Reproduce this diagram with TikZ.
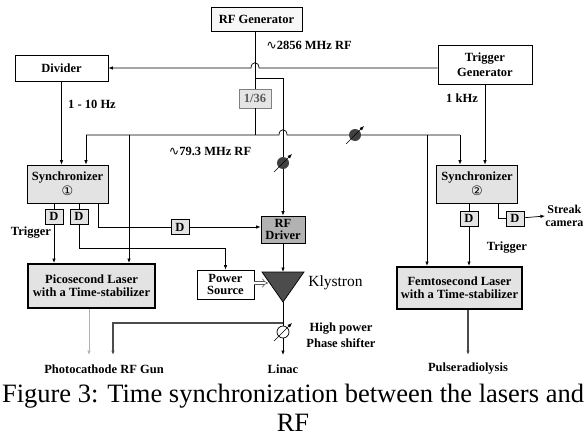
\documentclass[tikz,border=0pt]{standalone}
\usepackage{fontspec}
\setmainfont{Liberation Serif}
\newfontfamily\symfont{DejaVu Sans}
\usetikzlibrary{calc,arrows.meta}

\tikzset{
	blk/.style={draw, line width=0.8pt, inner sep=0pt, align=center,
		font=\bfseries\fontsize{12.5}{13}\selectfont},
	syncbox/.style={blk, fill=gray!22, minimum width=81pt, minimum height=38pt,
		font=\bfseries\fontsize{12.5}{15}\selectfont},
	laser/.style={blk, fill=gray!22, line width=2pt},
	dbox/.style={blk, fill=gray!22, minimum width=18pt, minimum height=15pt},
	lbl/.style={inner sep=0pt, align=center, font=\bfseries\fontsize{12.5}{16}\selectfont},
}

\begin{document}
\begin{tikzpicture}[x=1pt, y=-1pt, line width=0.7pt, >={Latex[length=4.5pt,width=3.5pt]}]
\useasboundingbox (0,0) rectangle (586,439);

% boxes
\node[blk, fill=gray!6, minimum width=91pt, minimum height=24pt] (rfgen) at (256.5,19) {RF Generator};
\node[blk, minimum width=93pt, minimum height=26pt] (divider) at (61.5,68) {Divider};
\node[blk, minimum width=94pt, minimum height=39pt, font=\bfseries\fontsize{12.5}{15}\selectfont] (trig) at (485,64.5) {Trigger\\Generator};
\node[blk, draw=gray, fill=gray!20, text=gray!70!black, minimum width=32pt, minimum height=19pt] (div) at (255,98.5) {1/36};
\node[syncbox] (sync1) at (67.5,184) {Synchronizer\\{\normalfont\symfont\fontsize{13}{13}\selectfont ①}};
\node[syncbox] (sync2) at (477,184) {Synchronizer\\{\normalfont\symfont\fontsize{13}{13}\selectfont ②}};
\node[dbox] (d1) at (54,216.5) {D};
\node[dbox] (d2) at (79,216.5) {D};
\node[dbox] (d3) at (180,227) {D};
\node[dbox] (d4) at (469,218.5) {D};
\node[dbox] (d5) at (515,218.5) {D};
\node[blk, fill=gray!60, minimum width=44pt, minimum height=27pt, font=\bfseries\fontsize{12.5}{11.5}\selectfont] (rfdrv) at (283,229.5) {RF\\Driver};
\node[blk, minimum width=57pt, minimum height=29pt, font=\bfseries\fontsize{12.5}{11.5}\selectfont] (power) at (225.5,284.5) {Power\\Source};
\node[laser, minimum width=127pt, minimum height=44pt] (pico) at (91.5,286) {Picosecond Laser\\with a Time-stabilizer};
\node[laser, minimum width=125pt, minimum height=42pt] (femto) at (459.5,288) {Femtosecond Laser\\with a Time-stabilizer};

% klystron
\coordinate (klytop) at (283,272);
\coordinate (klytip) at (283,302);
\coordinate (kin) at (268,283);
\draw[fill=gray!60!black] (262,272) -- (304,272) -- (klytip) -- cycle;

% labels
\node[lbl] (l2856) at (309,45) {{\normalfont\symfont ∿}2856 MHz RF};
\node[lbl] (l793) at (210,151) {{\normalfont\symfont ∿}79.3 MHz RF};
\node[lbl] (lhz) at (92,104) {1 - 10 Hz};
\node[lbl] (lkhz) at (462,98) {1 kHz};
\node[lbl] (trig1) at (31,233) {Trigger};
\node[lbl] (trig2) at (507,248) {Trigger};
\node[lbl, anchor=west, font=\bfseries\fontsize{12}{13}\selectfont] (streak) at (545,216) {Streak\\camera};
\node[lbl, anchor=west, font=\fontsize{15.5}{15}\selectfont] (kly) at (308,283) {Klystron};
\node[lbl] (hps) at (341,335) {High power\\Phase shifter};
\node[lbl] (gun) at (104,369) {Photocathode RF Gun};
\node[lbl] (linac) at (283,369) {Linac};
\node[lbl] (pulse) at (468,369) {Pulseradiolysis};
\node[align=center, font=\fontsize{26.5}{29}\selectfont] (cap) at (293,408) {Figure 3: Time synchronization between the lasers and\\RF};

% junctions
\coordinate (j1) at (255,78);
\coordinate (h1) at (86,135);
\coordinate (h2) at (460,135);
\coordinate (b1) at (129,135);
\coordinate (b2) at (427,135);
\coordinate (k2) at (225.5,248);
\coordinate (s3) at (98,227);
\coordinate (s5) at (498,218.5);
\coordinate (br) at (283,323);
\coordinate (g1) at (89,355);
\coordinate (g2) at (113,355);
\coordinate (e1) at (283,355);
\coordinate (e2) at (468,355);
\coordinate (ps1) at (283,163);
\coordinate (ps2) at (355,135);
\coordinate (hp) at (283,332);

% 2856 MHz
\draw (rfgen.south -| div) -- (div);
\draw (div) -- (div |- h1);
\draw[->] (j1) -| (rfdrv.north);
\draw[->] (trig.west |- divider) -- (259,68) .. controls (259,61) and (251,61) .. (251,68) -- (divider.east);

% 79.3 MHz
\draw[->] (h1) -- (h1 |- sync1.north);
\draw (h1) -- (279,135) .. controls (279,128) and (287,128) .. (287,135) -- (h2);
\draw[->] (h2) -- (h2 |- sync2.north);
\draw[->] (b1) -- (b1 |- pico.north);
\draw[->] (b2) -- (b2 |- femto.north);

% triggers
\draw[->] (divider.south) -- (divider.south |- sync1.north);
\draw[->] (trig.south) -- (trig.south |- sync2.north);
\draw (sync1.south -| d1) -- (d1);
\draw[->] (d1) -- (d1 |- pico.north);
\draw (sync1.south -| d2) -- (d2);
\draw[->] (d2) |- (k2) -- (power);
\draw (sync1.south -| s3) -- (s3) -- (d3);
\draw[->] (d3) -- (rfdrv.west |- d3);
\draw (sync2.south -| d4) -- (d4);
\draw[->] (d4) -- (d4 |- femto.north);
\draw (sync2.south -| s5) -- (s5) -- (d5);
\draw[->] (d5) -- (streak.west);

% klystron line
\draw[->] (rfdrv) -- (klytop);
\draw[double, double distance=2.5pt, line width=0.6pt, gray!70!black, -{Implies}] (power.east |- kin) -- (kin);
\draw[->] (klytip) -- (e1);
\draw[->, line width=1.2pt, gray!60!black] (br) -| (g2);
\draw[->, gray!60] (pico.south -| g1) -- (g1);
\draw[->, line width=1.2pt, gray!60!black] (femto.south -| e2) -- (e2);

% phase shifters
\foreach \p in {ps1,ps2}{
	\fill[gray!50!black] (\p) circle (6pt);
	\draw[->, line width=0.6pt] ($(\p)+(-9,9)$) -- ($(\p)+(9,-9)$);
}
\draw[fill=white] (hp) circle (6pt);
\draw[->, line width=0.6pt] ($(hp)+(-9,9)$) -- ($(hp)+(9,-9)$);

\end{tikzpicture}
\end{document}
